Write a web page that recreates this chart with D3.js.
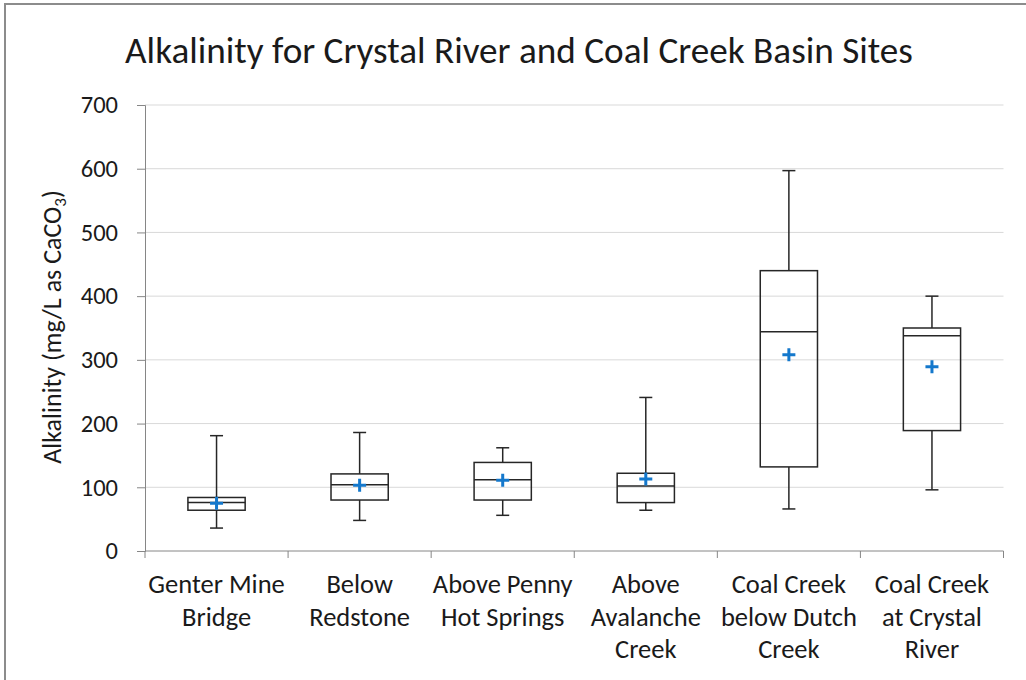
<!DOCTYPE html>
<html>
<head>
<meta charset="utf-8">
<script src="https://cdn.jsdelivr.net/npm/d3@7"></script>
<style>
  html, body { margin: 0; padding: 0; background: #fff; }
  svg text { font-family: Carlito, Lato, "Open Sans", sans-serif; fill: #1a1a1a; }
</style>
</head>
<body>
<svg id="chart" width="1026" height="680"></svg>
<script>
const categories = [
  ["Genter Mine", "Bridge"],
  ["Below", "Redstone"],
  ["Above Penny", "Hot Springs"],
  ["Above", "Avalanche", "Creek"],
  ["Coal Creek", "below Dutch", "Creek"],
  ["Coal Creek", "at Crystal", "River"]
];
const whiskerLow  = [36, 48, 56, 64, 66, 96];
const q1          = [64, 80, 80, 76, 132, 189];
const median      = [76, 104, 112, 102, 344, 338];
const q3          = [84, 121, 139, 122, 440, 350];
const whiskerHigh = [181, 186, 162, 241, 597, 400];
const means       = [75, 103, 111, 113, 308, 289];
const yTicks      = [0, 100, 200, 300, 400, 500, 600, 700];

const rows = categories.map((c, i) => ({
  key: c.join(" "), lines: c, lo: whiskerLow[i], q1: q1[i], med: median[i],
  q3: q3[i], hi: whiskerHigh[i], mean: means[i]
}));

const svg = d3.select("#chart");
const pLeft = 145, pRight = 1003.5, pTop = 105, pBottom = 551;

// outer frame
svg.append("path")
  .attr("d", "M5,690 L5,4 L1030,4")
  .attr("fill", "none").attr("stroke", "#8c8c8c").attr("stroke-width", 2);

const x = d3.scaleBand().domain(rows.map(d => d.key)).range([pLeft, pRight]);
const y = d3.scaleLinear().domain([0, 700]).range([pBottom, pTop]);

// gridlines
svg.append("g").selectAll("line").data(yTicks.filter(t => t > 0)).join("line")
  .attr("x1", pLeft).attr("x2", pRight)
  .attr("y1", d => y(d)).attr("y2", d => y(d))
  .attr("stroke", "#d9d9d9").attr("stroke-width", 1);

// y axis
const yAxis = svg.append("g").attr("transform", `translate(${pLeft},0)`)
  .call(d3.axisLeft(y).tickValues(yTicks).tickSize(8).tickPadding(19).tickFormat(d3.format("d")));
yAxis.select(".domain").attr("stroke", "#868686");
yAxis.selectAll(".tick line").attr("stroke", "#868686");
yAxis.selectAll(".tick text").attr("font-size", 24.5).attr("fill", "#262626");

// x axis line and boundary ticks
svg.append("line").attr("x1", pLeft).attr("x2", pRight).attr("y1", pBottom).attr("y2", pBottom)
  .attr("stroke", "#868686");
const bounds = rows.map(d => x(d.key)).concat([pRight]);
svg.append("g").selectAll("line").data(bounds).join("line")
  .attr("x1", d => d).attr("x2", d => d).attr("y1", pBottom).attr("y2", pBottom + 7)
  .attr("stroke", "#868686");

// x labels
const xl = svg.append("g").selectAll("text").data(rows).join("text")
  .attr("text-anchor", "middle").attr("font-size", 26.5).attr("fill", "#262626")
  .attr("x", d => x(d.key) + x.bandwidth() / 2).attr("y", 593);
xl.selectAll("tspan").data(d => d.lines).join("tspan")
  .attr("x", function() { return d3.select(this.parentNode).attr("x"); })
  .attr("dy", (d, i) => i === 0 ? 0 : 32.5)
  .text(d => d);

// boxes
const bw = x.bandwidth() * 0.4;
const cap = 13;
const g = svg.append("g").selectAll("g").data(rows).join("g")
  .attr("transform", d => `translate(${x(d.key) + x.bandwidth() / 2},0)`);
g.append("line").attr("x1", 0).attr("x2", 0).attr("y1", d => y(d.hi)).attr("y2", d => y(d.q3))
  .attr("stroke", "#262626").attr("stroke-width", 1.5);
g.append("line").attr("x1", 0).attr("x2", 0).attr("y1", d => y(d.q1)).attr("y2", d => y(d.lo))
  .attr("stroke", "#262626").attr("stroke-width", 1.5);
g.append("line").attr("x1", -cap / 2).attr("x2", cap / 2).attr("y1", d => y(d.hi)).attr("y2", d => y(d.hi))
  .attr("stroke", "#262626").attr("stroke-width", 1.5);
g.append("line").attr("x1", -cap / 2).attr("x2", cap / 2).attr("y1", d => y(d.lo)).attr("y2", d => y(d.lo))
  .attr("stroke", "#262626").attr("stroke-width", 1.5);
g.append("rect").attr("x", -bw / 2).attr("width", bw)
  .attr("y", d => y(d.q3)).attr("height", d => y(d.q1) - y(d.q3))
  .attr("fill", "none").attr("stroke", "#262626").attr("stroke-width", 1.5);
g.append("line").attr("x1", -bw / 2).attr("x2", bw / 2).attr("y1", d => y(d.med)).attr("y2", d => y(d.med))
  .attr("stroke", "#262626").attr("stroke-width", 1.5);
// mean markers
g.append("path")
  .attr("d", d => `M-6.5,${y(d.mean)} h13 M0,${y(d.mean) - 6.5} v13`)
  .attr("stroke", "#1478cc").attr("stroke-width", 3).attr("fill", "none");

// title
svg.append("text").attr("x", 519).attr("y", 63).attr("text-anchor", "middle")
  .attr("font-size", 37.2).attr("fill", "#111")
  .text("Alkalinity for Crystal River and Coal Creek Basin Sites");

// y axis title
const yt = svg.append("text").attr("transform", "translate(61,327) rotate(-90)")
  .attr("text-anchor", "middle").attr("font-size", 26).attr("fill", "#111");
yt.append("tspan").text("Alkalinity (mg/L as CaCO");
yt.append("tspan").attr("font-size", 17).attr("dy", 5).text("3");
yt.append("tspan").attr("dy", -5).text(")");
</script>
</body>
</html>
